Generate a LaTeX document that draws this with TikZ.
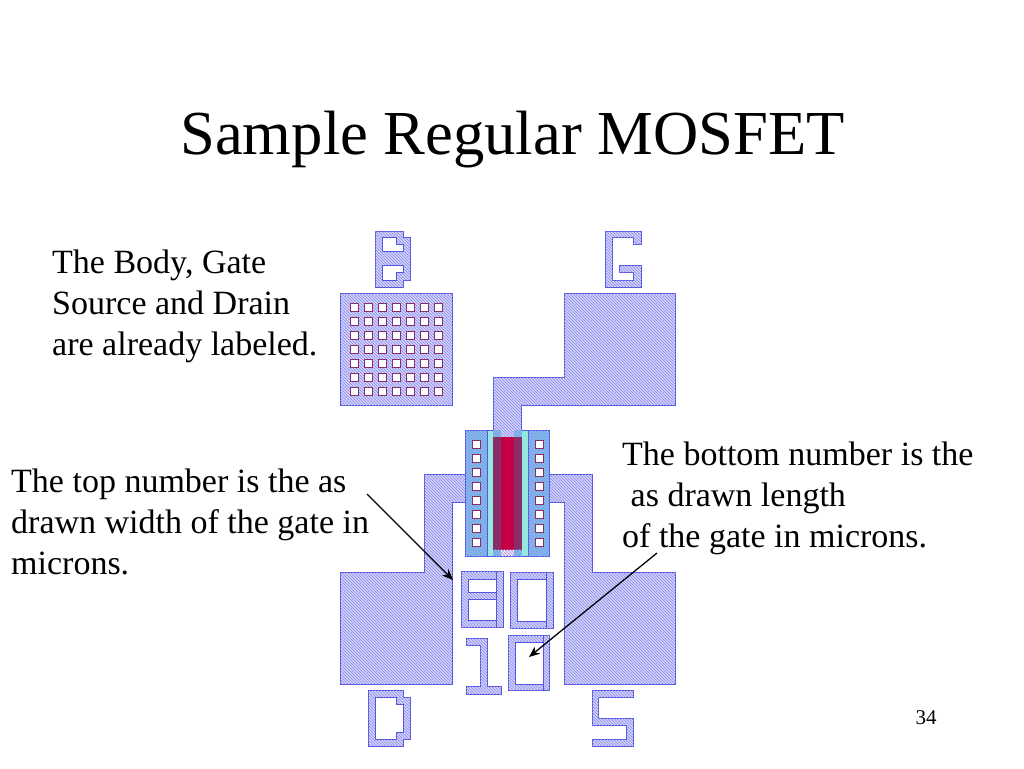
\documentclass[tikz,border=0pt]{standalone}
\usepackage{fontspec}
\setmainfont{Liberation Serif}
\usetikzlibrary{patterns,arrows.meta}
\definecolor{metalblue}{RGB}{85,85,225}
\definecolor{metalfill}{RGB}{212,212,252}
\definecolor{activecyan}{RGB}{150,232,222}
\definecolor{viacyan}{RGB}{125,195,232}
\definecolor{gatered}{RGB}{195,0,70}
\definecolor{gatedark}{RGB}{135,45,105}
\tikzset{
  metal/.style={draw=metalblue, line width=0.8pt, fill=metalfill, postaction={pattern=north west lines, pattern color=metalblue!70}},
  hole/.style={draw=metalblue, line width=0.8pt, fill=white},
  contact/.style={draw=gatedark, line width=0.6pt, fill=white},
  bodytext/.style={anchor=west, align=left, inner sep=0pt, font=\fontsize{34}{41}\selectfont},
  pointer/.style={draw=black, line width=1.3pt, -{Stealth[length=11pt,width=9pt]}}
}
\begin{document}
\begin{tikzpicture}[x=1pt, y=-1pt]
    \useasboundingbox (0,0) rectangle (1024,768);
    \fill[white] (0,0) rectangle (1024,768);

    % title and slide number
    \node[inner sep=0pt, font=\fontsize{62.6}{70}\selectfont] (title) at (512.5,140) {Sample Regular MOSFET};
    \node[inner sep=0pt, font=\fontsize{21}{24}\selectfont] (pagenum) at (926,718) {34};

    % pads
    \draw[metal] (340.3,293.3) rectangle (452.3,405.3);
    \draw[metal] (564,293.3) -- (675.7,293.3) -- (675.7,405.3) -- (521.7,405.3) -- (521.7,437) -- (493,437) -- (493,377.3) -- (564,377.3) -- cycle;
    \draw[metal] (465.3,474.3) -- (424.3,474.3) -- (424.3,572.3) -- (340.3,572.3) -- (340.3,684.3) -- (452.3,684.3) -- (452.3,502.3) -- (465.3,502.3) -- cycle;
    \draw[metal] (549.3,474.3) -- (592.3,474.3) -- (592.3,572.3) -- (675.7,572.3) -- (675.7,684.3) -- (564,684.3) -- (564,502.3) -- (549.3,502.3) -- cycle;

    % body contacts
    \foreach \i in {0,...,6}
        \foreach \j in {0,...,6}
            \draw[contact] (350.1+14*\i,303.3+14*\j) rectangle ++(8,8);

    % transistor
    \draw[draw=metalblue, thin, fill=activecyan] (487,430.3) rectangle (528.3,556.3);
    \fill[viacyan] (493,430.3) rectangle (501,556.3);
    \fill[viacyan] (514.3,430.3) rectangle (521.7,556.3);
    \fill[metalfill] (501,430.3) rectangle (514.3,437);
    \fill[pattern=north west lines, pattern color=metalblue!70] (493,430.3) rectangle (521.7,437);
    \fill[gatedark] (493,437) rectangle (521.7,549.6);
    \fill[gatered] (501,437) rectangle (514.3,549.6);
    \fill[red!8] (501,549.6) rectangle (514.3,556.3);
    \fill[pattern=north west lines, pattern color=metalblue!70] (493,549.6) rectangle (521.7,556.3);
    \draw[metal, fill=viacyan] (465.3,430.3) rectangle (487,556.3);
    \draw[metal, fill=viacyan] (528.3,430.3) rectangle (549.3,556.3);
    \foreach \j in {0,...,7} {
        \draw[contact] (471.8,440.7+14*\j) rectangle ++(8,8);
        \draw[contact] (535,440.7+14*\j) rectangle ++(8,8);
    }

    % letter B
    \draw[metal] (375,231) -- (403.3,231) -- (403.3,237.3) -- (410.3,237.3) -- (410.3,280) -- (403.3,280) -- (403.3,287) -- (375,287) -- cycle;
    \draw[hole] (382.3,237.3) -- (396.3,237.3) -- (396.3,244.3) -- (403.3,244.3) -- (403.3,251.7) -- (382.3,251.7) -- cycle;
    \draw[hole] (382.3,265.7) -- (403.3,265.7) -- (403.3,272.3) -- (396.3,272.3) -- (396.3,280) -- (382.3,280) -- cycle;

    % letter G
    \draw[metal] (605.3,231) -- (641.3,231) -- (641.3,244.7) -- (633.7,244.7) -- (633.7,237.7) -- (612.7,237.7) -- (612.7,280) -- (633.7,280) -- (633.7,272.7) -- (619.7,272.7) -- (619.7,265.7) -- (641.3,265.7) -- (641.3,287) -- (605.3,287) -- cycle;

    % letter D
    \draw[metal] (368.3,690.3) -- (403.3,690.3) -- (403.3,697.3) -- (410.3,697.3) -- (410.3,739.3) -- (403.3,739.3) -- (403.3,746.3) -- (368.3,746.3) -- cycle;
    \draw[hole] (375.3,697.3) -- (396.3,697.3) -- (396.3,704.3) -- (403.3,704.3) -- (403.3,732.3) -- (396.3,732.3) -- (396.3,739.3) -- (375.3,739.3) -- cycle;

    % letter S
    \draw[metal] (592,690.3) -- (633.7,690.3) -- (633.7,697.7) -- (598.7,697.7) -- (598.7,718.3) -- (633.7,718.3) -- (633.7,746.3) -- (592,746.3) -- (592,739.3) -- (626.7,739.3) -- (626.7,725.7) -- (592,725.7) -- cycle;

    % digits 8 0
    \draw[metal] (461,571.7) rectangle (503,627.7);
    \draw[hole] (468.3,579) rectangle (496.3,592.3);
    \draw[hole] (468.3,599.7) rectangle (496.3,620.3);
    \draw[draw=metalblue, thin] (496.3,571.7) -- (496.3,627.7);
    \draw[metal] (510.3,572.7) rectangle (553.3,628.3);
    \draw[hole] (517.7,579.3) rectangle (546,621.3);
    \draw[draw=metalblue, thin] (546,572.7) -- (546,628.3);

    % digits 1 0
    \draw[metal] (466,638.3) -- (487.3,638.3) -- (487.3,686.7) -- (501,686.7) -- (501,694.3) -- (466,694.3) -- (466,686.7) -- (480,686.7) -- (480,645.3) -- (466,645.3) -- cycle;
    \draw[metal] (508,635.3) rectangle (549.7,690.7);
    \draw[hole] (515.3,642.3) rectangle (543.3,684.3);
    \draw[draw=metalblue, thin] (543.3,635.3) -- (543.3,690.7);

    % text
    \node[bodytext] (bodynote) at (52,306) {The Body, Gate\\Source and Drain\\are already labeled.};
    \node[bodytext] (widthnote) at (11,521.5) {The top number is the as\\drawn width of the gate in\\microns.};
    \node[bodytext] (lengthnote) at (622,498) {The bottom number is the\\\ as drawn length\\of the gate in microns.};

    % pointers
    \coordinate (widthstart) at (367,494);
    \coordinate (widthend) at (453,580);
    \coordinate (lengthstart) at (657,553);
    \coordinate (lengthend) at (529,657);
    \draw[pointer] (widthstart) -- (widthend);
    \draw[pointer] (lengthstart) -- (lengthend);
\end{tikzpicture}
\end{document}
